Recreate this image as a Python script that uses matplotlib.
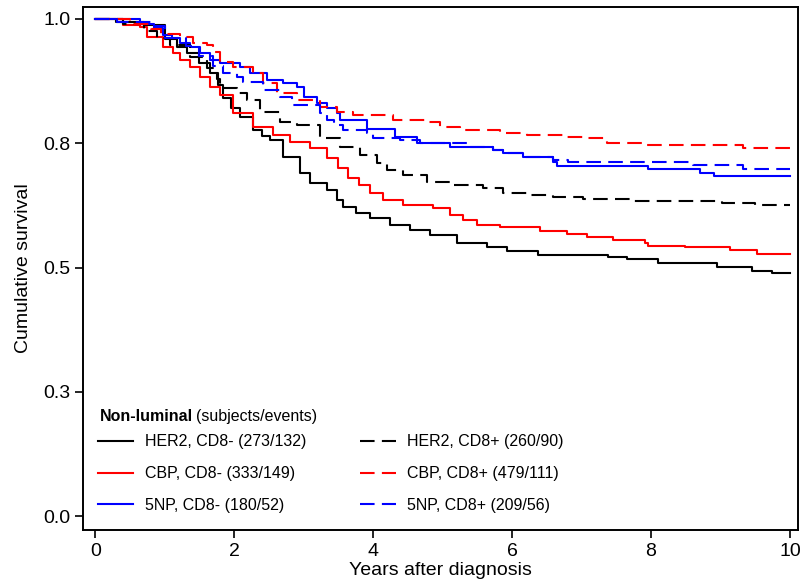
"""Kaplan-Meier curves: non-luminal subtypes split by CD8 status."""

import matplotlib
matplotlib.use("Agg")
import matplotlib.pyplot as plt

# step points (years, cumulative survival)
her2_neg_t = [0, 0.3, 0.7, 1.0, 1.18, 1.32, 1.5, 1.65, 1.76, 1.84, 1.95, 2.09, 2.27, 2.4, 2.52,
              2.7, 2.95, 3.09, 3.34, 3.48, 3.57, 3.75, 3.96, 4.24, 4.53, 4.82, 5.2, 5.64, 5.93,
              6.37, 7.38, 7.65, 8.1, 8.95, 9.45, 9.74, 10]
her2_neg_s = [1.0, 0.994, 0.988, 0.960, 0.944, 0.932, 0.911, 0.891, 0.867, 0.841, 0.82, 0.803,
              0.777, 0.765, 0.757, 0.722, 0.690, 0.67, 0.656, 0.636, 0.622, 0.61, 0.600, 0.585,
              0.575, 0.565, 0.549, 0.541, 0.533, 0.525, 0.521, 0.517, 0.509, 0.501, 0.493, 0.489,
              0.489]

cbp_neg_t = [0, 0.4, 0.65, 0.75, 0.98, 1.12, 1.22, 1.37, 1.51, 1.65, 1.8, 1.99, 2.27, 2.56,
             2.81, 3.09, 3.34, 3.5, 3.64, 3.8, 3.96, 4.14, 4.43, 4.86, 5.1, 5.3, 5.5, 5.83, 6.4,
             6.79, 7.08, 7.45, 7.91, 7.96, 8.49, 9.14, 9.53, 10]
cbp_neg_s = [1.0, 0.988, 0.984, 0.964, 0.944, 0.932, 0.918, 0.903, 0.883, 0.863, 0.847, 0.811,
             0.783, 0.767, 0.753, 0.740, 0.720, 0.70, 0.680, 0.665, 0.650, 0.636, 0.626, 0.620,
             0.606, 0.596, 0.585, 0.581, 0.573, 0.567, 0.561, 0.555, 0.549, 0.543, 0.541, 0.535,
             0.527, 0.527]

np5_neg_t = [0, 0.65, 0.84, 0.98, 1.1, 1.22, 1.37, 1.51, 1.65, 1.8, 2.09, 2.23, 2.47, 2.7, 2.9,
             3.0, 3.19, 3.34, 3.48, 3.53, 3.91, 4.32, 4.63, 5.1, 5.73, 5.87, 6.16, 6.59, 6.65,
             7.96, 8.71, 8.9, 10]
np5_neg_s = [1.0, 0.99, 0.982, 0.968, 0.962, 0.952, 0.944, 0.932, 0.918, 0.911, 0.903, 0.891,
             0.877, 0.871, 0.863, 0.843, 0.831, 0.821, 0.811, 0.797, 0.779, 0.763, 0.750, 0.742,
             0.736, 0.730, 0.722, 0.712, 0.704, 0.698, 0.690, 0.684, 0.684]

her2_pos_t = [0, 0.4, 0.7, 0.89, 1.08, 1.37, 1.61, 1.75, 1.8, 2.04, 2.19, 2.37, 2.66, 2.9, 3.24,
              3.53, 3.81, 4.06, 4.2, 4.43, 4.78, 5.1, 5.58, 5.87, 6.26, 6.59, 7.02, 7.7, 9.02,
              9.5, 10]
her2_pos_s = [1.0, 0.99, 0.975, 0.962, 0.948, 0.924, 0.901, 0.88, 0.861, 0.851, 0.837, 0.813,
              0.793, 0.787, 0.761, 0.742, 0.726, 0.710, 0.696, 0.686, 0.672, 0.666, 0.660, 0.650,
              0.646, 0.642, 0.638, 0.634, 0.630, 0.626, 0.626]

cbp_pos_t = [0, 0.5, 0.8, 0.94, 1.22, 1.41, 1.61, 1.7, 1.8, 1.99, 2.27, 2.42, 2.62, 2.9, 3.24,
             3.48, 3.71, 4.29, 4.78, 4.96, 5.25, 5.83, 6.22, 6.73, 7.08, 7.37, 7.88, 9.33, 10]
cbp_pos_s = [1.0, 0.99, 0.98, 0.970, 0.964, 0.952, 0.948, 0.934, 0.914, 0.903, 0.891, 0.871,
             0.851, 0.837, 0.823, 0.813, 0.807, 0.797, 0.793, 0.783, 0.777, 0.771, 0.767, 0.763,
             0.761, 0.751, 0.747, 0.740, 0.740]

np5_pos_t = [0, 0.31, 0.8, 1.0, 1.3, 1.5, 1.7, 1.84, 2.04, 2.13, 2.42, 2.66, 2.83, 3.24, 3.34,
             3.43, 3.57, 3.91, 4.0, 4.39, 4.68, 5.35, 5.73, 5.87, 6.16, 6.59, 6.8, 8.6, 9.33, 10]
np5_pos_s = [1.0, 0.994, 0.985, 0.962, 0.945, 0.925, 0.905, 0.891, 0.883, 0.873, 0.857, 0.843,
             0.827, 0.811, 0.797, 0.787, 0.777, 0.771, 0.761, 0.757, 0.750, 0.742, 0.736, 0.730,
             0.722, 0.716, 0.712, 0.706, 0.698, 0.698]

labels_neg = ["HER2, CD8- (273/132)", "CBP, CD8- (333/149)", "5NP, CD8- (180/52)"]
labels_pos = ["HER2, CD8+ (260/90)", "CBP, CD8+ (479/111)", "5NP, CD8+ (209/56)"]
colors = ["black", "red", "blue"]

y_ticks = [0, 0.25, 0.5, 0.75, 1.0]
y_ticklabels = ["0.0", "0.3", "0.5", "0.8", "1.0"]
x_ticks = [0, 2, 4, 6, 8, 10]

plt.rcParams["font.family"] = ["Liberation Sans", "DejaVu Sans"]

fig = plt.figure(figsize=(8, 5.82), dpi=100)
ax = fig.add_axes([0.104, 0.0893, 0.8935, 0.8987])

neg = [(her2_neg_t, her2_neg_s), (cbp_neg_t, cbp_neg_s), (np5_neg_t, np5_neg_s)]
pos = [(her2_pos_t, her2_pos_s), (cbp_pos_t, cbp_pos_s), (np5_pos_t, np5_pos_s)]

handles = []
for (t, s), color, label in zip(neg, colors, labels_neg):
    line, = ax.plot(t, s, drawstyle="steps-post", color=color, lw=1.5, label=label)
    handles.append(line)
for (t, s), color, label in zip(pos, colors, labels_pos):
    line, = ax.plot(t, s, drawstyle="steps-post", color=color, lw=1.5, label=label,
                    dashes=(7, 3.5))
    handles.append(line)

ax.set_xlim(-0.173, 10.115)
ax.set_ylim(-0.028, 1.024)
ax.set_xticks(x_ticks)
ax.set_yticks(y_ticks)
ax.set_yticklabels(y_ticklabels)
ax.tick_params(direction="out", length=6, width=1.2, labelsize=14, pad=3)
for spine in ax.spines.values():
    spine.set_linewidth(1.4)

ax.set_xlabel("Years after diagnosis", fontsize=14, labelpad=2)
ax.set_ylabel("Cumulative survival", fontsize=14, labelpad=8)

# legend heading: bold group name followed by plain note
head = ax.text(0.024, 0.218, "Non-luminal", transform=ax.transAxes, fontsize=11.5,
               fontweight="bold", va="center", ha="left")
ax.annotate("(subjects/events)", xy=(1, 0.5), xycoords=head, xytext=(1.5, 0),
            textcoords="offset points", fontsize=11.5, va="center", ha="left")

ax.legend(handles=handles, loc="lower left", bbox_to_anchor=(0.0, 0.005), ncol=2,
          frameon=False, fontsize=11.5, handlelength=2.2, handletextpad=0.75,
          columnspacing=3.4, labelspacing=1.05)

fig.savefig("out.png", dpi=100)
